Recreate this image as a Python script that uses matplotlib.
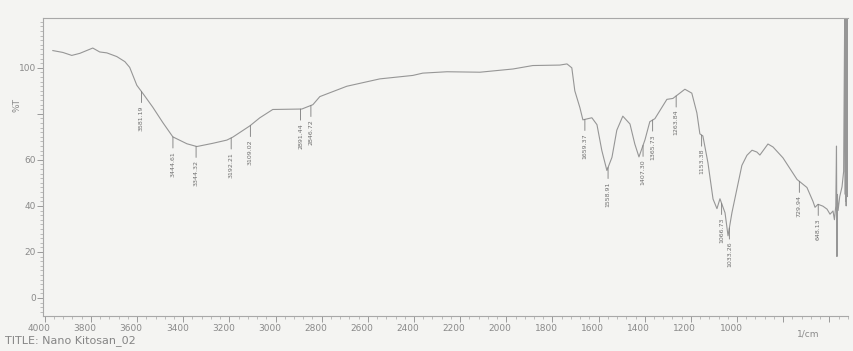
import numpy as np
import matplotlib.pyplot as plt
import matplotlib.transforms as mtransforms
from matplotlib.ticker import MultipleLocator

# --------------------------------------------------------------
# Data
# --------------------------------------------------------------
wavenumber = [3965, 3922, 3883, 3848, 3814, 3792, 3762, 3731, 3688, 3653,
              3632, 3601, 3575, 3532, 3489, 3445, 3384, 3341, 3272, 3211,
              3185, 3111, 3068, 3012, 2951, 2886, 2838, 2808, 2691, 2548,
              2405, 2362, 2257, 2114, 1971, 1885, 1768, 1737, 1716, 1703,
              1681, 1668, 1629, 1607, 1586, 1564, 1542, 1521, 1495, 1464,
              1443, 1425, 1399, 1378, 1356, 1304, 1278, 1248, 1226, 1196,
              1174, 1161, 1148, 1126, 1104, 1087, 1074, 1052, 1039, 1022,
              1000, 979, 957, 935, 914, 901, 866, 844, 801, 740,
              697, 671, 662, 649, 628, 610, 597, 584, 578, 572,
              569, 567, 565, 562, 555, 545, 538, 533, 531, 530,
              529, 528, 527, 526, 525, 524, 523, 522, 521]
transmittance = [107.5, 106.7, 105.4, 106.3, 107.7, 108.6, 106.9, 106.5, 104.9, 102.7,
                 100.2, 92.4, 88.9, 82.9, 76.3, 70.0, 67.0, 65.8, 67.2, 68.6,
                 69.9, 74.8, 78.3, 81.9, 82.0, 82.1, 84.0, 87.5, 92.0, 95.2,
                 96.7, 97.7, 98.3, 98.1, 99.5, 101.0, 101.2, 101.7, 100.0, 90.0,
                 82.7, 77.4, 78.3, 75.3, 64.1, 55.4, 61.1, 72.9, 79.0, 75.6,
                 66.9, 61.3, 68.7, 76.6, 77.9, 86.3, 86.7, 89.0, 90.7, 89.0,
                 80.4, 71.3, 70.4, 58.7, 43.0, 38.8, 43.1, 37.0, 27.0, 37.1,
                 47.6, 57.6, 62.0, 64.2, 63.4, 62.1, 66.9, 65.6, 60.9, 51.5,
                 48.0, 42.0, 39.4, 40.7, 39.9, 38.6, 36.4, 37.8, 34.0, 40.0,
                 66.0, 18.0, 45.0, 38.0, 44.0, 48.3, 55.0, 130.0, 45.0, 130.0,
                 42.0, 130.0, 40.0, 130.0, 48.0, 130.0, 44.0, 130.0, 52.0]

peak_labels = ['3581.19', '3444.61', '3344.32', '3192.21', '3109.02', '2891.44',
               '2846.72', '1659.37', '1558.91', '1407.30', '1365.73', '1263.84',
               '1153.38', '1066.73', '1033.26', '729.94', '648.13']

x_ticks = [4000, 3800, 3600, 3400, 3200, 3000, 2800, 2600, 2400, 2200,
           2000, 1800, 1600, 1400, 1200, 1000, 800, 600]
x_tick_labels = ['4000', '3800', '3600', '3400', '3200', '3000', '2800', '2600', '2400', '2200',
                 '2000', '1800', '1600', '1400', '1200', '1000', '', '']
y_ticks = [0, 20, 40, 60, 80, 100]
y_tick_labels = ['0', '20', '40', '60', '', '100']

title_text = 'TITLE: Nano Kitosan_02'

# --------------------------------------------------------------
# Plot
# --------------------------------------------------------------
ink = '#969696'
paper = '#f4f4f2'

fig = plt.figure(figsize=(8.54, 3.51), dpi=100, facecolor=paper)
ax = fig.add_axes([0.050, 0.100, 0.943, 0.849])
ax.set_facecolor(paper)

ax.plot(wavenumber, transmittance, color=ink, lw=0.8)

ax.set_xlim(4009, 519)
ax.set_ylim(-7.8, 121.7)

# peak markers: leader line + vertical number under each band
wn_sorted = np.array(wavenumber[::-1], dtype=float)
tr_sorted = np.array(transmittance[::-1], dtype=float)
for lab in peak_labels:
    pos = float(lab)
    t_at = np.interp(pos, wn_sorted, tr_sorted)
    ax.annotate(lab, xy=(pos, t_at), xytext=(0, -10), textcoords='offset points',
                rotation=90, ha='center', va='top', fontsize=4.5, color='#6f6f6f',
                arrowprops=dict(arrowstyle='-', lw=0.6, color='#7a7a7a',
                                shrinkA=0, shrinkB=0))

# axes styling
for side in ['left', 'bottom', 'top']:
    ax.spines[side].set_color('#a8a8a8')
    ax.spines[side].set_linewidth(0.8)
ax.spines['right'].set_visible(False)

ax.set_xticks(x_ticks)
ax.set_xticklabels(x_tick_labels)
ax.xaxis.set_minor_locator(MultipleLocator(40))
ax.set_yticks(y_ticks)
ax.set_yticklabels(y_tick_labels)
ax.yaxis.set_minor_locator(MultipleLocator(2))

ax.tick_params(axis='both', which='major', colors='#9a9a9a', labelcolor='#8a8a8a',
               labelsize=6.5, length=4, width=0.7, direction='out')
ax.tick_params(axis='both', which='minor', colors='#a5a5a5', length=2, width=0.5,
               direction='out')
ax.tick_params(axis='x', pad=2)
ax.tick_params(axis='y', pad=1)

# labels on the print sit a little left of their ticks
shift = mtransforms.ScaledTranslation(-6 / 100, 0, fig.dpi_scale_trans)
for lbl in ax.get_xticklabels():
    lbl.set_transform(lbl.get_transform() + shift)

ax.text(690, -0.045, '1/cm', transform=ax.get_xaxis_transform(), ha='center', va='top',
        fontsize=6.5, color='#8a8a8a')
ax.text(-0.032, 84, '%T', transform=ax.get_yaxis_transform(), rotation=90,
        ha='center', va='center', fontsize=6.5, color='#8a8a8a')

fig.text(0.006, 0.03, title_text, fontsize=8, color='#858585', va='center', ha='left')

plt.savefig('out.png', dpi=100, facecolor=paper)
